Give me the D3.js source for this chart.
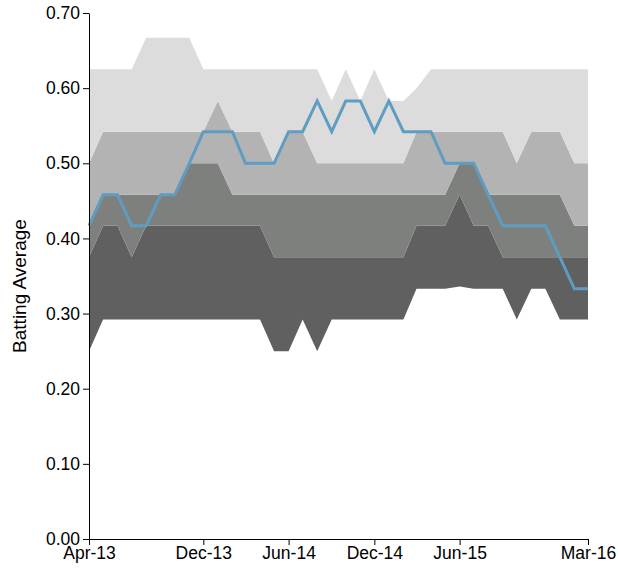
<!DOCTYPE html>
<html>
<head>
<meta charset="utf-8">
<script src="https://cdn.jsdelivr.net/npm/d3@7"></script>
<style>
  html, body { margin: 0; padding: 0; background: #fff; }
  svg { display: block; font-family: "Liberation Sans", Arial, sans-serif; }
  .axis text { font-size: 17.5px; fill: #000; }
  .axis path, .axis line { stroke: #000; }
</style>
</head>
<body>
<svg id="chart" width="618" height="571"></svg>
<script>
// Monthly observations, Apr 2013 – Mar 2016
const months = [
  "2013-04","2013-05","2013-06","2013-07","2013-08","2013-09","2013-10","2013-11","2013-12",
  "2014-01","2014-02","2014-03","2014-04","2014-05","2014-06","2014-07","2014-08","2014-09",
  "2014-10","2014-11","2014-12","2015-01","2015-02","2015-03","2015-04","2015-05","2015-06",
  "2015-07","2015-08","2015-09","2015-10","2015-11","2015-12","2016-01","2016-02","2016-03"
];

// Distribution of batting averages for the comparison group
const minVal = [0.250,0.292,0.292,0.292,0.292,0.292,0.292,0.292,0.292,0.292,0.292,0.292,
                0.292,0.250,0.250,0.292,0.250,0.292,0.292,0.292,0.292,0.292,0.292,0.333,
                0.333,0.333,0.336,0.333,0.333,0.333,0.292,0.333,0.333,0.292,0.292,0.292];
const q25    = [0.375,0.417,0.417,0.375,0.417,0.417,0.417,0.417,0.417,0.417,0.417,0.417,
                0.417,0.375,0.375,0.375,0.375,0.375,0.375,0.375,0.375,0.375,0.375,0.417,
                0.417,0.417,0.458,0.417,0.417,0.375,0.375,0.375,0.375,0.375,0.375,0.375];
const median = [0.417,0.458,0.458,0.458,0.458,0.458,0.458,0.500,0.500,0.500,0.458,0.458,
                0.458,0.458,0.458,0.458,0.458,0.458,0.458,0.458,0.458,0.458,0.458,0.458,
                0.458,0.458,0.500,0.500,0.458,0.458,0.458,0.458,0.458,0.458,0.417,0.417];
const q75    = [0.500,0.542,0.542,0.542,0.542,0.542,0.542,0.542,0.542,0.583,0.542,0.542,
                0.542,0.500,0.542,0.542,0.500,0.500,0.500,0.500,0.500,0.500,0.500,0.542,
                0.542,0.542,0.542,0.542,0.542,0.542,0.500,0.542,0.542,0.542,0.500,0.500];
const maxVal = [0.625,0.625,0.625,0.625,0.667,0.667,0.667,0.667,0.625,0.625,0.625,0.625,
                0.625,0.625,0.625,0.625,0.625,0.583,0.625,0.583,0.625,0.583,0.583,0.600,
                0.625,0.625,0.625,0.625,0.625,0.625,0.625,0.625,0.625,0.625,0.625,0.625];

// Player's batting average
const player = [0.417,0.458,0.458,0.417,0.417,0.458,0.458,0.500,0.542,0.542,0.542,0.500,
                0.500,0.500,0.542,0.542,0.583,0.542,0.583,0.583,0.542,0.583,0.542,0.542,
                0.542,0.500,0.500,0.500,0.458,0.417,0.417,0.417,0.417,0.375,0.333,0.333];

const xTicks = ["2013-04","2013-12","2014-06","2014-12","2015-06","2016-03"];
const yTicks = [0, 0.1, 0.2, 0.3, 0.4, 0.5, 0.6, 0.7];

const parse = d3.timeParse("%Y-%m");
const dates = months.map(parse);

const margin = { top: 13, right: 30, bottom: 32, left: 89 };
const width = 618, height = 571;
const svg = d3.select("#chart");

const x = d3.scaleTime()
  .domain(d3.extent(dates))
  .range([margin.left, width - margin.right]);
const y = d3.scaleLinear()
  .domain([0, 0.7])
  .range([height - margin.bottom, margin.top]);

const rows = dates.map((d, i) => ({
  date: d, min: minVal[i], q25: q25[i], med: median[i], q75: q75[i], max: maxVal[i], p: player[i]
}));

// Bands, from the bottom up
const bands = [
  { lo: "min", hi: "q25", color: "#606060" },
  { lo: "q25", hi: "med", color: "#7e807e" },
  { lo: "med", hi: "q75", color: "#b3b3b3" },
  { lo: "q75", hi: "max", color: "#dcdcdc" }
];

bands.forEach(b => {
  svg.append("path")
    .datum(rows)
    .attr("fill", b.color)
    .attr("d", d3.area()
      .x(d => x(d.date))
      .y0(d => y(d[b.lo]))
      .y1(d => y(d[b.hi])));
});

svg.append("path")
  .datum(rows)
  .attr("fill", "none")
  .attr("stroke", "#5e9dc1")
  .attr("stroke-width", 3)
  .attr("stroke-linejoin", "miter")
  .attr("d", d3.line().x(d => x(d.date)).y(d => y(d.p)));

// Axes
svg.append("g")
  .attr("class", "axis")
  .attr("transform", `translate(0,${height - margin.bottom})`)
  .call(d3.axisBottom(x)
    .tickValues(xTicks.map(parse))
    .tickFormat(d3.timeFormat("%b-%y"))
    .tickSizeOuter(0))
  .call(g => g.selectAll("text").attr("dy", "0.6em"));

svg.append("g")
  .attr("class", "axis")
  .attr("transform", `translate(${margin.left},0)`)
  .call(d3.axisLeft(y)
    .tickValues(yTicks)
    .tickFormat(d3.format(".2f"))
    .tickSizeOuter(0));

svg.append("text")
  .attr("transform", "translate(26,286) rotate(-90)")
  .attr("text-anchor", "middle")
  .style("font-size", "19px")
  .text("Batting Average");
</script>
</body>
</html>
